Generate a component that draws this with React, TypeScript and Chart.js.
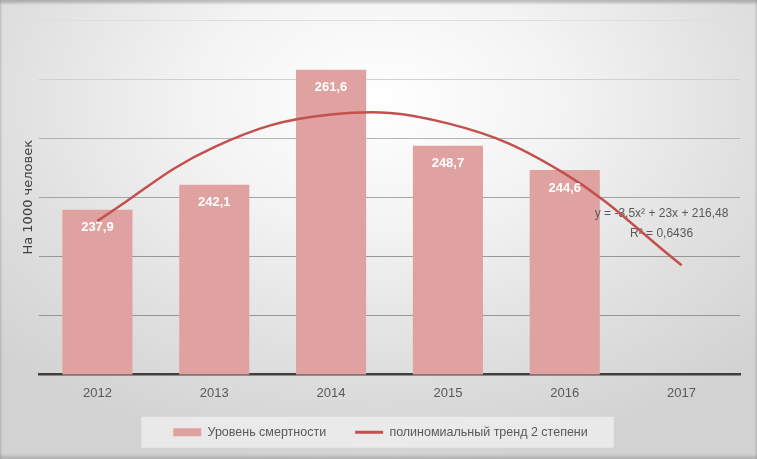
import React, { useEffect, useRef } from "react";
import { Chart, registerables } from "chart.js";

Chart.register(...registerables);

// ---- data ----
const categories = ["2012", "2013", "2014", "2015", "2016", "2017"];
const mortality: (number | null)[] = [237.9, 242.1, 261.6, 248.7, 244.6, null];
const trendValues = [236.0, 248.5, 254.0, 252.5, 244.0, 228.5];
const barLabel = "Уровень смертности";
const trendLabel = "полиномиальный тренд 2 степени";
const yTitle = "На 1000 человек";
const equationLines = ["y = -3,5x² + 23x + 216,48", "R² = 0,6436"];
const yMin = 210;
const yMax = 270;
const yStep = 10;

// ---- styles ----
const barColor = "#dfa2a1";
const lineColor = "#c4504e";
const textGray = "#595959";
const font = "'Liberation Sans', Arial, sans-serif";

const fmt = (v: number) => v.toFixed(1).replace(".", ",");

const legendBoxPlugin = {
  id: "legendBox",
  beforeDraw(chart: any) {
    const lg = chart.legend;
    if (!lg || !lg.legendHitBoxes || !lg.legendHitBoxes.length) return;
    const hb = lg.legendHitBoxes;
    const left = Math.min(...hb.map((b: any) => b.left)) - 32;
    const right = Math.max(...hb.map((b: any) => b.left + b.width)) + 26;
    const cy = hb[0].top + hb[0].height / 2;
    const ctx = chart.ctx;
    ctx.save();
    ctx.fillStyle = "rgba(240,240,240,0.75)";
    ctx.fillRect(left, cy - 15.5, right - left, 31);
    ctx.restore();
  },
};

const equationPlugin = {
  id: "equation",
  afterDatasetDraw(chart: any, args: any) {
    if (args.index !== 0) return;
    const xs = chart.scales.x;
    const ys = chart.scales.y;
    const x = xs.getPixelForValue(5) - 20;
    const y = ys.getPixelForValue(237.3);
    const ctx = chart.ctx;
    ctx.save();
    ctx.fillStyle = textGray;
    ctx.font = `12px ${font}`;
    ctx.textAlign = "center";
    ctx.textBaseline = "middle";
    equationLines.forEach((t, i) => ctx.fillText(t, x, y + i * 20));
    ctx.restore();
  },
};

const barLabelsPlugin = {
  id: "barLabels",
  afterDatasetsDraw(chart: any) {
    const meta = chart.getDatasetMeta(0);
    const ctx = chart.ctx;
    ctx.save();
    ctx.fillStyle = "#ffffff";
    ctx.font = `bold 13px ${font}`;
    ctx.textAlign = "center";
    ctx.textBaseline = "middle";
    meta.data.forEach((el: any, i: number) => {
      const v = mortality[i];
      if (v == null) return;
      ctx.fillText(fmt(v), el.x, el.y + 18);
    });
    ctx.restore();
  },
};

export default function App() {
  const ref = useRef<HTMLCanvasElement>(null);

  useEffect(() => {
    if (!ref.current) return;
    const chart = new Chart(ref.current, {
      type: "bar",
      data: {
        labels: categories,
        datasets: [
          {
            type: "bar",
            label: barLabel,
            data: mortality,
            backgroundColor: barColor,
            borderWidth: 0,
            barPercentage: 0.6,
            categoryPercentage: 1,
            order: 1,
          } as any,
          {
            type: "line",
            label: trendLabel,
            data: trendValues,
            borderColor: lineColor,
            backgroundColor: lineColor,
            borderWidth: 2.5,
            pointRadius: 0,
            tension: 0.4,
            fill: false,
            order: 0,
          } as any,
        ],
      },
      options: {
        animation: false,
        responsive: false,
        layout: { padding: { top: 20, right: 17, left: 21, bottom: 14 } },
        plugins: {
          tooltip: { enabled: false },
          legend: {
            position: "bottom",
            maxHeight: 48,
            labels: {
              usePointStyle: true,
              pointStyleWidth: 28,
              boxHeight: 8,
              padding: 29,
              color: textGray,
              font: { family: font, size: 12.5 },
              generateLabels: () => [
                {
                  text: barLabel,
                  fillStyle: barColor,
                  strokeStyle: barColor,
                  lineWidth: 0,
                  pointStyle: "rect",
                  datasetIndex: 0,
                  hidden: false,
                  fontColor: textGray,
                },
                {
                  text: trendLabel,
                  fillStyle: lineColor,
                  strokeStyle: lineColor,
                  lineWidth: 3,
                  pointStyle: "line",
                  datasetIndex: 1,
                  hidden: false,
                  fontColor: textGray,
                },
              ],
            },
          },
        },
        scales: {
          x: {
            grid: { display: false, drawTicks: false },
            border: { display: true, color: "#3f3f3f", width: 2.5 },
            ticks: { color: textGray, font: { family: font, size: 13 }, padding: 11 },
            afterFit: (s: any) => {
              s.height = 22.5;
            },
          },
          y: {
            min: yMin,
            max: yMax,
            ticks: { display: false, stepSize: yStep },
            grid: {
              drawTicks: false,
              color: (c: any) => {
                const v = c.tick ? c.tick.value : 0;
                if (v >= 270) return "#dedede";
                if (v >= 260) return "#d0d0d0";
                if (v >= 250) return "#b4b4b4";
                if (v >= 240) return "#a4a4a4";
                return "#969696";
              },
              lineWidth: 1,
            },
            border: { display: false },
            title: {
              display: true,
              text: yTitle,
              color: "#404040",
              font: { family: "'DejaVu Sans', sans-serif", size: 13 },
              padding: { top: 0, bottom: 0 },
            },
            afterFit: (s: any) => {
              s.width = 18;
            },
          },
        },
      } as any,
      plugins: [legendBoxPlugin, equationPlugin, barLabelsPlugin],
    });
    return () => chart.destroy();
  }, []);

  return (
    <div
      style={{
        position: "fixed",
        left: 0,
        top: 0,
        width: 757,
        height: 459,
        background:
          "radial-gradient(ellipse 70% 80% at 50% 22%, #ffffff 0%, #f3f3f3 35%, #e0e0e0 70%, #d2d2d2 100%)",
        boxShadow: "inset 0 3px 3px rgba(0,0,0,0.22), inset 0 -3px 3px rgba(0,0,0,0.15)",
      }}
    >
      <canvas ref={ref} width={757} height={459} style={{ display: "block" }} />
    </div>
  );
}
